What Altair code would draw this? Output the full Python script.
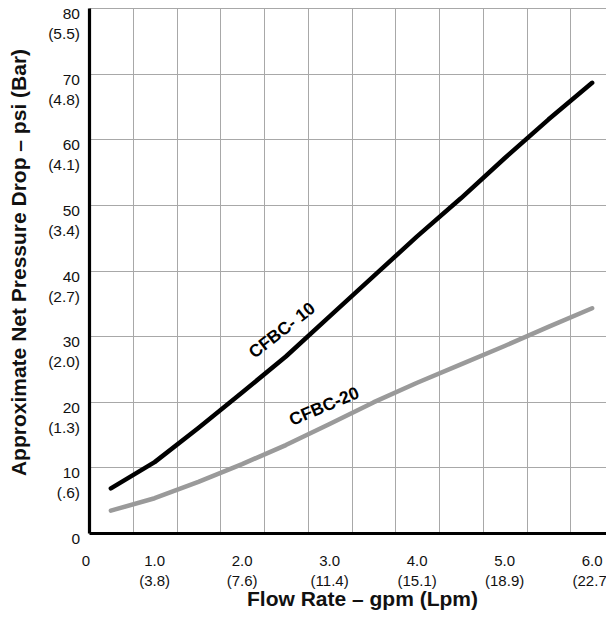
import altair as alt
import pandas as pd

# ---- data ----
flow_gpm = [0.5, 1.0, 1.5, 2.0, 2.5, 3.0, 3.5, 4.0, 4.5, 5.0, 5.5, 6.0]
cfbc10_psi = [6.8, 10.8, 16.0, 21.4, 26.9, 33.0, 39.1, 45.2, 51.0, 57.1, 63.0, 68.6]
cfbc20_psi = [3.4, 5.3, 7.8, 10.5, 13.4, 16.6, 19.9, 22.9, 25.7, 28.5, 31.4, 34.25]

x_ticks = [1, 2, 3, 4, 5, 6]
x_gpm_labels = ["1.0", "2.0", "3.0", "4.0", "5.0", "6.0"]
x_lpm_labels = ["(3.8)", "(7.6)", "(11.4)", "(15.1)", "(18.9)", "(22.7)"]

y_ticks = [0, 10, 20, 30, 40, 50, 60, 70, 80]
y_psi_labels = ["0", "10", "20", "30", "40", "50", "60", "70", "80"]
y_bar_labels = ["", "(.6)", "(1.3)", "(2.0)", "(2.7)", "(3.4)", "(4.1)", "(4.8)", "(5.5)"]

x_min, x_max = 0.25, 6.25
x_grid = [0.75, 1.25, 1.75, 2.25, 2.75, 3.25, 3.75, 4.25, 4.75, 5.25, 5.75]
y_grid = [10, 20, 30, 40, 50, 60, 70, 80]

series_names = ["CFBC-10", "CFBC-20"]
series_colors = ["#000000", "#9a9a9a"]
curve_labels = ["CFBC- 10", "CFBC-20"]
label_x = [2.46, 2.94]
label_y = [30.8, 19.2]

FONT = "Liberation Sans"

lines_df = pd.DataFrame({
    "gpm": flow_gpm * 2,
    "psi": cfbc10_psi + cfbc20_psi,
    "model": [series_names[0]] * len(flow_gpm) + [series_names[1]] * len(flow_gpm),
})
xlab_df = pd.DataFrame({"gpm": x_ticks, "g": x_gpm_labels, "l": x_lpm_labels})
ylab_df = pd.DataFrame({"psi": y_ticks, "p": y_psi_labels, "b": y_bar_labels})
origin_df = pd.DataFrame({"gpm": [x_min], "t": ["0"]})

xs = alt.Scale(domain=[x_min, x_max], nice=False, zero=False)
ys = alt.Scale(domain=[0, 80], nice=False)

base = alt.Chart(lines_df)

lines = base.mark_line(strokeWidth=4.5, strokeCap="round", strokeJoin="round").encode(
    x=alt.X("gpm:Q", scale=xs, axis=alt.Axis(
        values=x_grid, labels=False, ticks=False, grid=True, gridColor="#a8a8a8", gridWidth=1,
        gridOpacity=1, domainColor="#000000", domainWidth=3.2,
        title="Flow Rate – gpm (Lpm)", titleFont=FONT, titleFontSize=21, titleFontWeight="bold",
        titleColor="#111111", titleX=273, titleY=72, titleAlign="center",
        titleBaseline="alphabetic")),
    y=alt.Y("psi:Q", scale=ys, axis=alt.Axis(
        values=y_grid, labels=False, ticks=False, grid=True, gridColor="#a8a8a8", gridWidth=1,
        gridOpacity=1, domainColor="#000000", domainWidth=3.2,
        title="Approximate Net Pressure Drop – psi (Bar)", titleFont=FONT, titleFontSize=21,
        titleFontWeight="bold", titleColor="#111111", titleX=-70, titleY=254,
        titleAlign="center", titleBaseline="middle", titleAngle=270)),
    color=alt.Color("model:N", scale=alt.Scale(domain=series_names, range=series_colors), legend=None),
)

curve_lab_df = pd.DataFrame({"gpm": label_x, "psi": label_y, "t": curve_labels})
lab10 = alt.Chart(curve_lab_df.iloc[[0]]).mark_text(
    font=FONT, fontSize=17.5, fontWeight="bold", angle=322, color="#000000").encode(
    x=alt.X("gpm:Q", scale=xs), y=alt.Y("psi:Q", scale=ys), text="t:N")
lab20 = alt.Chart(curve_lab_df.iloc[[1]]).mark_text(
    font=FONT, fontSize=17.5, fontWeight="bold", angle=337, color="#000000").encode(
    x=alt.X("gpm:Q", scale=xs), y=alt.Y("psi:Q", scale=ys), text="t:N")

xg = alt.Chart(xlab_df).mark_text(font=FONT, fontSize=15, color="#111111", baseline="middle").encode(
    x=alt.X("gpm:Q", scale=xs), y=alt.value(553), text="g:N")
xl = alt.Chart(xlab_df).mark_text(font=FONT, fontSize=15, color="#111111", baseline="middle").encode(
    x=alt.X("gpm:Q", scale=xs), y=alt.value(573), text="l:N")
x0 = alt.Chart(origin_df).mark_text(font=FONT, fontSize=15, color="#111111", baseline="middle", dx=-3).encode(
    x=alt.X("gpm:Q", scale=xs), y=alt.value(553), text="t:N")

yp = alt.Chart(ylab_df).mark_text(font=FONT, fontSize=15.5, color="#111111", align="right",
                                  baseline="middle", dy=6).encode(
    x=alt.value(-9), y=alt.Y("psi:Q", scale=ys), text="p:N")
yb = alt.Chart(ylab_df).mark_text(font=FONT, fontSize=15.5, color="#111111", align="right",
                                  baseline="middle", dy=26).encode(
    x=alt.value(-9), y=alt.Y("psi:Q", scale=ys), text="b:N")

chart = alt.layer(lines, lab10, lab20, xg, xl, x0, yp, yb).properties(
    width=525, height=525,
    padding={"left": 81, "top": 0, "right": -8, "bottom": 77},
    autosize=alt.AutoSizeParams(type="none"),
).configure_view(stroke=None).configure(background="white")

chart.save("out.html", embed_options={"renderer": "svg", "actions": False})
